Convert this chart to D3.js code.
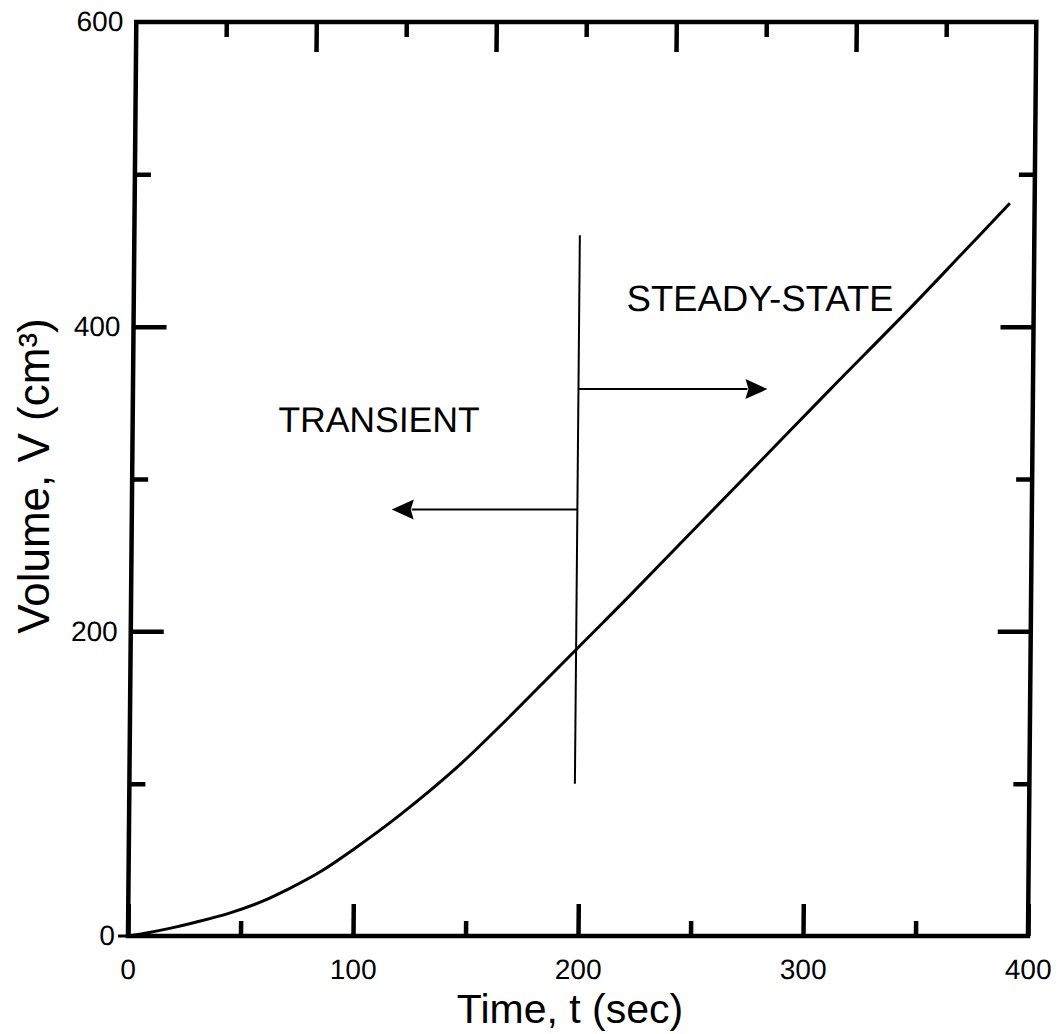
<!DOCTYPE html>
<html>
<head>
<meta charset="utf-8">
<script src="https://cdn.jsdelivr.net/npm/d3@7"></script>
<style>
  html, body { margin: 0; padding: 0; background: #fff; }
  svg { display: block; }
  text { font-family: "Liberation Sans", Arial, Helvetica, sans-serif; fill: #000; }
</style>
</head>
<body>
<svg id="chart" width="1063" height="1034"></svg>
<script>
// ---- data ----
const timeSec = [0, 10, 20, 30, 45, 60, 70, 85, 100, 120, 145, 166, 188, 200, 210, 220, 250, 280, 310, 345, 368, 389];
const volumeCm3 = [0, 2.5, 5.5, 9, 15, 23, 30, 42, 57, 79, 110, 140, 173, 191, 206, 221, 267, 313, 359, 412, 448, 481];

const xMajorTicks = [0, 100, 200, 300, 400];
const xMinorTicks = [50, 150, 250, 350];
const xTopMajorTicks = [80, 160, 240, 320];
const xTopMinorTicks = [40, 120, 200, 280, 360];
const yMajorTicks = [0, 200, 400, 600];
const yMinorTicks = [100, 300, 500];

const dividerT = 198;            // transient / steady-state boundary line
const dividerV = [100, 460];
const arrowSteady = { from: 198, to: 282, v: 359 };
const arrowTransient = { from: 198, to: 115.5, v: 280 };
const labelSteady = { text: "STEADY-STATE", t: 219, v: 410 };
const labelTransient = { text: "TRANSIENT", t: 64.8, v: 331 };

const xTitle = "Time, t (sec)";
const yTitle = "Volume, V (cm\u00B3)";

// ---- layout ----
const svg = d3.select("#chart");
const W = 900, H = 914;
const originX = 128, originY = 936;

const x = d3.scaleLinear().domain([0, 400]).range([0, W]);
const y = d3.scaleLinear().domain([0, 600]).range([0, -H]);

// slight shear to match the scanned figure
const g = svg.append("g").attr("transform", `translate(${originX},${originY}) skewX(-0.52)`);

// frame
g.append("rect")
  .attr("x", 0).attr("y", -H).attr("width", W).attr("height", H)
  .attr("fill", "none").attr("stroke", "#000").attr("stroke-width", 4.5);

function styleAxis(sel, width) {
  sel.select(".domain").remove();
  sel.selectAll(".tick line").attr("stroke", "#000").attr("stroke-width", width);
  sel.selectAll(".tick text").style("font-size", "28px")
     .style("font-family", '"Liberation Sans", Arial, sans-serif').attr("fill", "#000");
}

// bottom axis
g.append("g").call(d3.axisBottom(x).tickValues(xMajorTicks).tickSizeInner(-32).tickSizeOuter(0).tickPadding(23).tickFormat(d3.format("d")))
  .call(s => styleAxis(s, 4.5));
g.append("g").call(d3.axisBottom(x).tickValues(xMinorTicks).tickSizeInner(-15).tickSizeOuter(0).tickFormat(""))
  .call(s => styleAxis(s, 4.5));
// top axis
g.append("g").attr("transform", `translate(0,${-H})`)
  .call(d3.axisTop(x).tickValues(xTopMajorTicks).tickSizeInner(-30).tickSizeOuter(0).tickFormat(""))
  .call(s => styleAxis(s, 4.5));
g.append("g").attr("transform", `translate(0,${-H})`)
  .call(d3.axisTop(x).tickValues(xTopMinorTicks).tickSizeInner(-15).tickSizeOuter(0).tickFormat(""))
  .call(s => styleAxis(s, 4.5));
// left axis
g.append("g").call(d3.axisLeft(y).tickValues(yMajorTicks).tickSizeInner(-33).tickSizeOuter(0).tickPadding(13).tickFormat(d3.format("d")))
  .call(s => styleAxis(s, 4.5))
  .call(s => s.selectAll(".tick").filter(d => d === 0 || d === 600).select("line").remove());
g.append("g").call(d3.axisLeft(y).tickValues(yMinorTicks).tickSizeInner(-16).tickSizeOuter(0).tickFormat(""))
  .call(s => styleAxis(s, 4.5));
// small outward tick at zero on left axis
g.append("line").attr("x1", -10).attr("x2", 0).attr("y1", y(0)).attr("y2", y(0))
  .attr("stroke", "#000").attr("stroke-width", 3);
// right axis
g.append("g").attr("transform", `translate(${W},0)`)
  .call(d3.axisRight(y).tickValues(yMajorTicks.filter(d => d > 0 && d < 600)).tickSizeInner(-33).tickSizeOuter(0).tickFormat(""))
  .call(s => styleAxis(s, 4.5));
g.append("g").attr("transform", `translate(${W},0)`)
  .call(d3.axisRight(y).tickValues(yMinorTicks).tickSizeInner(-16).tickSizeOuter(0).tickFormat(""))
  .call(s => styleAxis(s, 4.5));

// curve
const pts = timeSec.map((t, i) => [t, volumeCm3[i]]);
g.append("path")
  .datum(pts)
  .attr("fill", "none").attr("stroke", "#000").attr("stroke-width", 3)
  .attr("d", d3.line().x(d => x(d[0])).y(d => y(d[1])).curve(d3.curveCatmullRom.alpha(0.5)));

// divider line
g.append("line")
  .attr("x1", x(dividerT)).attr("x2", x(dividerT))
  .attr("y1", y(dividerV[0])).attr("y2", y(dividerV[1]))
  .attr("stroke", "#000").attr("stroke-width", 2);

// arrows
function arrow(a) {
  const dir = a.to > a.from ? 1 : -1;
  const tipX = x(a.to), yy = y(a.v), headLen = 22, headHalf = 10;
  g.append("line")
    .attr("x1", x(a.from)).attr("x2", tipX - dir * headLen + dir * 2)
    .attr("y1", yy).attr("y2", yy)
    .attr("stroke", "#000").attr("stroke-width", 2);
  g.append("path")
    .attr("d", `M${tipX},${yy} L${tipX - dir * headLen},${yy - headHalf} L${tipX - dir * (headLen - 3)},${yy} L${tipX - dir * headLen},${yy + headHalf} Z`)
    .attr("fill", "#000");
}
arrow(arrowSteady);
arrow(arrowTransient);

// annotation labels
g.append("text").attr("x", x(labelSteady.t)).attr("y", y(labelSteady.v))
  .style("font-size", "36.5px").text(labelSteady.text);
g.append("text").attr("x", x(labelTransient.t)).attr("y", y(labelTransient.v))
  .style("font-size", "35.5px").text(labelTransient.text);

// axis titles
svg.append("text")
  .attr("x", 570).attr("y", 1023)
  .attr("text-anchor", "middle")
  .style("font-size", "41px")
  .text(xTitle);
svg.append("text")
  .attr("transform", "translate(49,476) rotate(-90)")
  .attr("text-anchor", "middle")
  .style("font-size", "44px")
  .text(yTitle);
</script>
</body>
</html>
